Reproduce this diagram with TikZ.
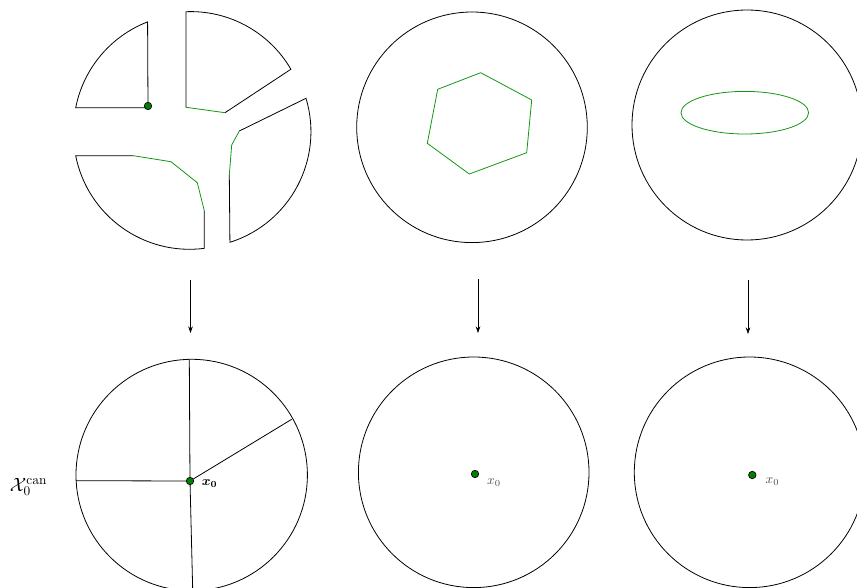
\documentclass[tikz,border=0pt]{standalone}
\usepackage{amsmath,bm}
\usetikzlibrary{arrows.meta}
\definecolor{dotgreen}{RGB}{0,128,0}
\definecolor{linegreen}{RGB}{20,150,20}
\begin{document}
\begin{tikzpicture}[x=0.75pt,y=-0.75pt,
  edge/.style={line width=0.6pt,black},
  gedge/.style={line width=0.6pt,linegreen},
  dot/.style={circle,fill=dotgreen,draw=black,line width=0.5pt,inner sep=0pt,minimum size=5.6pt},
  mapto/.style={line width=0.5pt,-{Stealth[length=5pt,width=3.5pt]}},
  lbl/.style={inner sep=0pt,font=\normalsize},
  glbl/.style={inner sep=0pt,font=\normalsize,text=black!70}]
\useasboundingbox (0,0) rectangle (857,588);

% ---------- top left: cut pieces ----------
% piece A (upper left)
\draw[edge] (148,107.7) -- (75.7,107.7) arc[start angle=191.1, end angle=248.8, radius=116] -- cycle;
% piece B (upper right)
\draw[edge] (186,107.3) -- (186,11.7) arc[start angle=267.7, end angle=329.8, radius=116] -- (225,112.7);
\draw[gedge] (225,112.7) -- (186,107.3);
% piece C (right)
\draw[edge] (239.3,131) -- (306,98.3) arc[start angle=-16.75, end angle=72.44, radius=116] -- (229.3,175);
\draw[gedge] (229.3,175) -- (231.7,145) -- (239.3,131);
% piece D (lower left)
\draw[edge] (133.3,155.7) -- (75.7,155.7) arc[start angle=168.86, end angle=82.67, radius=116] -- (204.3,210.7);
\draw[gedge] (204.3,210.7) -- (197.3,182.7) -- (171,161.7) -- (133.3,155.7);
\node[dot] (ptA) at (148,106) {};

% ---------- top middle ----------
\coordinate (cTM) at (472,127.3);
\draw[edge] (cTM) circle[radius=115.3];
\draw[gedge] (480.7,72.7) -- (531.7,100) -- (526.7,152.7) -- (469.3,174) -- (427.3,143.3) -- (437.7,89.3) -- cycle;

% ---------- top right ----------
\coordinate (cTR) at (747,125);
\draw[edge] (cTR) circle[radius=115];
\coordinate (cEl) at (744.8,112.7);
\draw[gedge] (cEl) ellipse[x radius=63.8, y radius=21.3];

% ---------- arrows ----------
\coordinate (a1s) at (190.5,280);
\coordinate (a1e) at (190.5,333);
\coordinate (a2s) at (478,279);
\coordinate (a2e) at (478,333);
\coordinate (a3s) at (748,280);
\coordinate (a3e) at (748,334);
\draw[mapto] (a1s) -- (a1e);
\draw[mapto] (a2s) -- (a2e);
\draw[mapto] (a3s) -- (a3e);

% ---------- bottom left ----------
\coordinate (cBL) at (191.7,475);
\draw[edge] (cBL) circle[radius=115.7];
\coordinate (eL) at (76,480.7);
\coordinate (eU) at (189.3,359.3);
\coordinate (eR) at (291.7,419.3);
\coordinate (eD) at (192.7,590);
\coordinate (x0pos) at (190,481);
\draw[edge] (x0pos) -- (eL);
\draw[edge] (x0pos) -- (eU);
\draw[edge] (x0pos) -- (eR);
\draw[edge] (x0pos) -- (eD);
\node[dot] (x0a) at (x0pos) {};
\node[lbl] (lx0a) at (209.5,484) {$\bm{x_0}$};
\node[inner sep=0pt] (lX) at (28.5,487) {\Large $\mathcal{X}_0^{\mathrm{can}}$};

% ---------- bottom middle ----------
\coordinate (cBM) at (473.7,472.3);
\draw[edge] (cBM) circle[radius=115.3];
\node[dot] (x0b) at (475,474) {};
\node[glbl] (lx0b) at (494,482.5) {$x_0$};

% ---------- bottom right ----------
\coordinate (cBR) at (749.6,472.3);
\draw[edge] (cBR) circle[radius=115.3];
\node[dot] (x0c) at (752.3,475) {};
\node[glbl] (lx0c) at (772.5,482) {$x_0$};
\end{tikzpicture}
\end{document}
